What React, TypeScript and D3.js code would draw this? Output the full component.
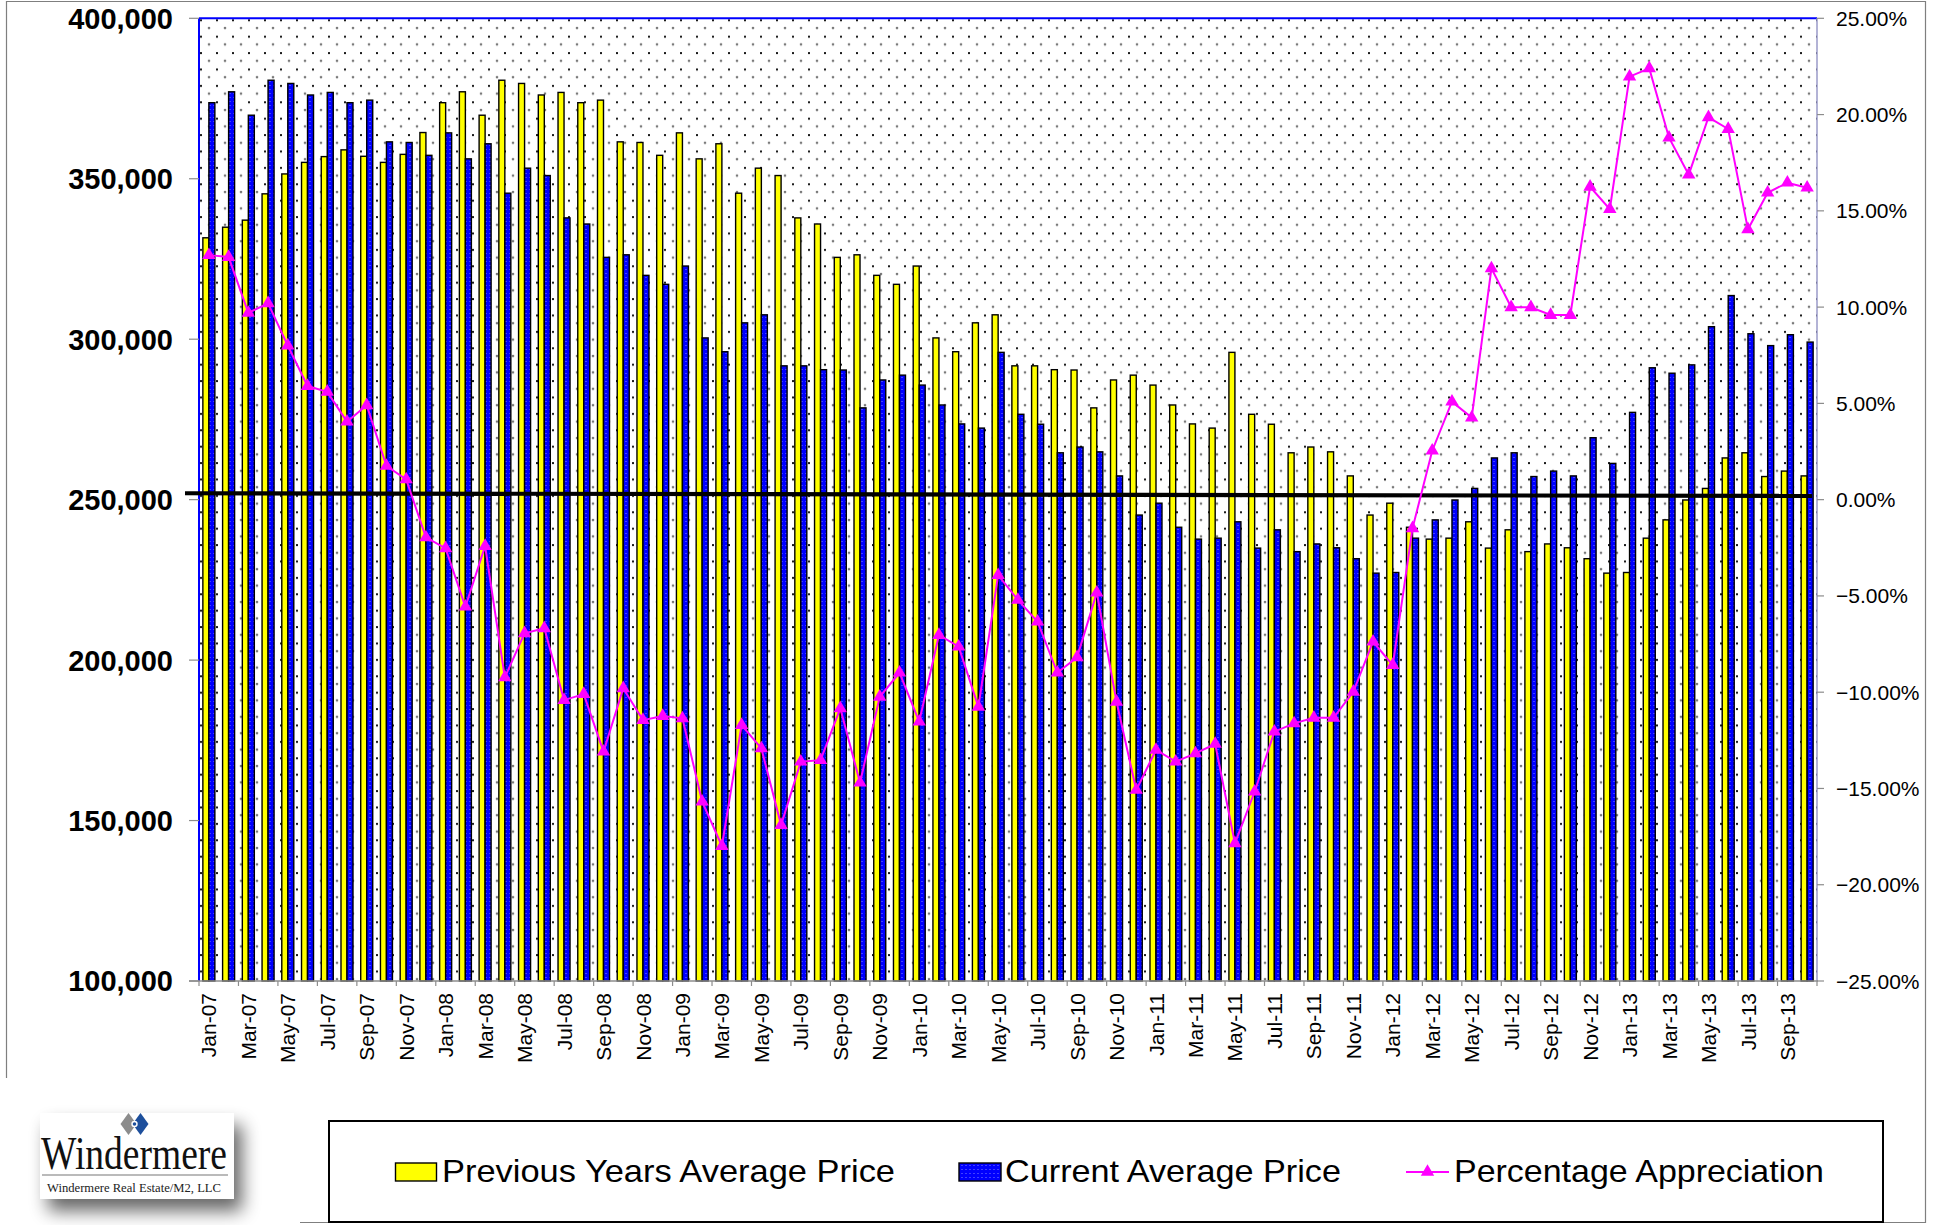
import React from 'react';
import * as d3 from 'd3';

const months = [
  'Jan-07','Feb-07','Mar-07','Apr-07','May-07','Jun-07','Jul-07','Aug-07','Sep-07','Oct-07','Nov-07','Dec-07',
  'Jan-08','Feb-08','Mar-08','Apr-08','May-08','Jun-08','Jul-08','Aug-08','Sep-08','Oct-08','Nov-08','Dec-08',
  'Jan-09','Feb-09','Mar-09','Apr-09','May-09','Jun-09','Jul-09','Aug-09','Sep-09','Oct-09','Nov-09','Dec-09',
  'Jan-10','Feb-10','Mar-10','Apr-10','May-10','Jun-10','Jul-10','Aug-10','Sep-10','Oct-10','Nov-10','Dec-10',
  'Jan-11','Feb-11','Mar-11','Apr-11','May-11','Jun-11','Jul-11','Aug-11','Sep-11','Oct-11','Nov-11','Dec-11',
  'Jan-12','Feb-12','Mar-12','Apr-12','May-12','Jun-12','Jul-12','Aug-12','Sep-12','Oct-12','Nov-12','Dec-12',
  'Jan-13','Feb-13','Mar-13','Apr-13','May-13','Jun-13','Jul-13','Aug-13','Sep-13','Oct-13'
];

const prevAvg = [
  331600, 334900, 337100, 345300, 351500, 355100, 356900, 359000, 357000, 355100, 357600, 364400,
  373700, 377100, 369800, 380700, 379700, 376100, 376900, 373700, 374500, 361500, 361300, 357300,
  364300, 356200, 360900, 345500, 353300, 351000, 337800, 335900, 325500, 326300, 319900, 317100,
  322800, 300400, 296100, 305100, 307600, 291700, 291700, 290500, 290400, 278600, 287300, 288800,
  285700, 279500, 273600, 272300, 295900, 276600, 273500, 264600, 266400, 264900, 257400, 245200,
  248900, 241400, 237700, 238000, 243100, 234900, 240600, 233800, 236200, 235000, 231600, 227100,
  227300, 238000, 243700, 249900, 253500, 263000, 264600, 257200, 258900, 257400
];

const currAvg = [
  373700, 377100, 369800, 380700, 379700, 376100, 376900, 373700, 374500, 361500, 361300, 357300,
  364300, 356200, 360900, 345500, 353300, 351000, 337800, 335900, 325500, 326300, 319900, 317100,
  322800, 300400, 296100, 305100, 307600, 291700, 291700, 290500, 290400, 278600, 287300, 288800,
  285700, 279500, 273600, 272300, 295900, 276600, 273500, 264600, 266400, 264900, 257400, 245200,
  248900, 241400, 237700, 238000, 243100, 234900, 240600, 233800, 236200, 235000, 231600, 227100,
  227300, 238000, 243700, 249900, 253500, 263000, 264600, 257200, 258900, 257400, 269300, 261300,
  277200, 291100, 289400, 292000, 303900, 313600, 301700, 298000, 301400, 299100
];

const pctAppreciation = [
  12.7, 12.6, 9.7, 10.2, 8.0, 5.9, 5.6, 4.05, 4.9, 1.75, 1.05, -1.96,
  -2.53, -5.56, -2.41, -9.23, -6.94, -6.68, -10.41, -10.1, -13.09, -9.8, -11.45, -11.24,
  -11.36, -15.69, -17.99, -11.71, -12.92, -16.9, -13.61, -13.53, -10.84, -14.7, -10.24, -8.99,
  -11.53, -7.03, -7.64, -10.76, -3.92, -5.21, -6.34, -8.99, -8.19, -4.83, -10.5, -15.08,
  -13.0, -13.61, -13.18, -12.69, -17.85, -15.17, -12.05, -11.62, -11.33, -11.33, -9.98, -7.38,
  -8.59, -1.49, 2.54, 5.09, 4.26, 12.01, 9.99, 9.99, 9.59, 9.59, 16.25, 15.09,
  21.97, 22.4, 18.8, 16.88, 19.86, 19.25, 14.04, 15.94, 16.46, 16.2
];

const leftTicks = [100000, 150000, 200000, 250000, 300000, 350000, 400000];
const rightTicks = [-25, -20, -15, -10, -5, 0, 5, 10, 15, 20, 25];
const referenceLine = [252000, 251150];
const seriesNames = ['Previous Years Average Price', 'Current Average Price', 'Percentage Appreciation'];

const W = 1935;
const H = 1225;
const PL = 199, PR = 1817, PT = 18.3, PB = 981;
const SANS = '"Liberation Sans", Arial, Helvetica, sans-serif';
const SERIF = '"Liberation Serif", "Times New Roman", serif';

export default function App() {
  const idx = d3.range(months.length);
  const x = d3.scaleBand<number>().domain(idx).range([PL, PR]).paddingInner(0).paddingOuter(0);
  const xs = d3.scaleBand<string>().domain(['prev', 'curr']).range([0, x.bandwidth()]).paddingInner(0).paddingOuter(0.644);
  const yL = d3.scaleLinear().domain([100000, 400000]).range([PB, PT]);
  const yR = d3.scaleLinear().domain([-25, 25]).range([PB, PT]);
  const cx = (i: number) => (x(i) as number) + x.bandwidth() / 2;
  const line = d3.line<number>().x((_d, i) => cx(i)).y((d) => yR(d));
  const tri = d3.symbol().type(d3.symbolTriangle).size(78)() as string;
  const fmtL = d3.format(',');
  const fmtR = (d: number) => d3.format('.2f')(d) + '%';
  const bw = xs.bandwidth();
  const tickIdx = d3.range(0, months.length + 1, 2);

  return (
    <svg width={W} height={H} style={{ position: 'absolute', left: 0, top: 0, background: '#fff' }}>
      <defs>
        <pattern id="dots" x={PL} y={PT} width={16} height={16.4} patternUnits="userSpaceOnUse">
          <rect x={1} y={1} width={2} height={2} fill="#1a1a1a" />
          <circle cx={10} cy={9.7} r={1.3} fill="#7a7a7a" />
        </pattern>
        <pattern id="bluePat" x={0} y={0} width={4} height={4} patternUnits="userSpaceOnUse">
          <rect width={4} height={4} fill="#0000ff" />
          <rect x={1.5} y={1} width={1} height={1} fill="#7f7fff" />
        </pattern>
        <filter id="shadow" x="-30%" y="-40%" width="170%" height="200%">
          <feGaussianBlur in="SourceAlpha" stdDeviation={9} />
          <feOffset dx={8} dy={12} result="b" />
          <feComponentTransfer>
            <feFuncA type="linear" slope={0.6} />
          </feComponentTransfer>
          <feMerge>
            <feMergeNode />
            <feMergeNode in="SourceGraphic" />
          </feMerge>
        </filter>
      </defs>

      {/* outer chart border */}
      <path d={`M6.5,1078 L6.5,1.5 L1925.5,1.5 L1925.5,1222.5 L300,1222.5`} fill="none" stroke="#7f7f7f" strokeWidth={1.2} />

      {/* plot area */}
      <rect x={PL} y={PT} width={PR - PL} height={PB - PT} fill="#fff" />
      <rect x={PL} y={PT} width={PR - PL} height={PB - PT} fill="url(#dots)" />

      {/* bars */}
      <g>
        {idx.map((i) => (
          <rect key={'p' + i} x={(x(i) as number) + (xs('prev') as number)} y={yL(prevAvg[i])}
            width={bw} height={PB - yL(prevAvg[i])} fill="#ffff00" stroke="#000" strokeWidth={1.4} />
        ))}
        {idx.map((i) => (
          <rect key={'c' + i} x={(x(i) as number) + (xs('curr') as number)} y={yL(currAvg[i])}
            width={bw} height={PB - yL(currAvg[i])} fill="url(#bluePat)" stroke="#000" strokeWidth={1.4} />
        ))}
      </g>

      {/* plot border and axes */}
      <line x1={PL} x2={PR} y1={PT} y2={PT} stroke="#0000ff" strokeWidth={2} />
      <line x1={PL} x2={PL} y1={PT} y2={PB} stroke="#0000ff" strokeWidth={2} />
      <line x1={PR} x2={PR} y1={PT} y2={PB} stroke="#9a9ac8" strokeWidth={1.5} />
      <line x1={PL - 10} x2={PR + 1} y1={PB} y2={PB} stroke="#8c8c8c" strokeWidth={1.5} />

      {/* left axis */}
      <g>
        {leftTicks.map((t) => (
          <g key={t}>
            <line x1={PL - 10} x2={PL} y1={yL(t)} y2={yL(t)} stroke="#8c8c8c" strokeWidth={1.2} />
            <text x={173} y={yL(t)} dy="0.36em" textAnchor="end" fontFamily={SANS} fontWeight="bold" fontSize={29} fill="#000">
              {fmtL(t)}
            </text>
          </g>
        ))}
      </g>

      {/* right axis */}
      <g>
        {rightTicks.map((t) => (
          <g key={t}>
            <line x1={PR} x2={PR + 7} y1={yR(t)} y2={yR(t)} stroke="#8c8c8c" strokeWidth={1.2} />
            <text x={1836} y={yR(t)} dy="0.36em" textAnchor="start" fontFamily={SANS} fontSize={21} fill="#000">
              {fmtR(t)}
            </text>
          </g>
        ))}
      </g>

      {/* x axis */}
      <g>
        {tickIdx.map((i) => {
          const tx = i < months.length ? (x(i) as number) : PR;
          return <line key={'t' + i} x1={tx} x2={tx} y1={PB} y2={PB + 5} stroke="#8c8c8c" strokeWidth={1.2} />;
        })}
        {idx.filter((i) => i % 2 === 0).map((i) => (
          <text key={'l' + i} transform={`translate(${cx(i)},993) rotate(-90)`} dy="0.36em" textAnchor="end"
            fontFamily={SANS} fontSize={21} fill="#000">
            {months[i]}
          </text>
        ))}
      </g>

      {/* reference line */}
      <line x1={185} x2={1812} y1={yL(referenceLine[0])} y2={yL(referenceLine[1])} stroke="#000" strokeWidth={4.2} />

      {/* percentage line */}
      <path d={line(pctAppreciation) as string} fill="none" stroke="#ff00ff" strokeWidth={2} />
      {pctAppreciation.map((d, i) => (
        <path key={'m' + i} d={tri} transform={`translate(${cx(i)},${yR(d)})`} fill="#ff00ff" />
      ))}

      {/* logo */}
      <g>
        <rect x={40} y={1113} width={194} height={86} fill="#fff" filter="url(#shadow)" />
        <path d="M128.5,1113 L136.5,1124 L128.5,1135 L120.5,1124 Z" fill="#8c8c8c" />
        <path d="M140.5,1113 L148.5,1124 L140.5,1135 L132.5,1124 Z" fill="#1d4f9c" />
        <circle cx={134.5} cy={1124} r={3.2} fill="#fff" />
        <circle cx={134.5} cy={1124} r={1.8} fill="#1d4f9c" />
        <text x={41} y={1169} fontFamily={SERIF} fontSize={46} textLength={186} lengthAdjust="spacingAndGlyphs" fill="#111">
          Windermere
        </text>
        <line x1={42} x2={228} y1={1175} y2={1175} stroke="#777" strokeWidth={1.2} />
        <text x={47} y={1192} fontFamily={SERIF} fontSize={13.5} textLength={174} lengthAdjust="spacingAndGlyphs" fill="#222">
          Windermere Real Estate/M2, LLC
        </text>
      </g>

      {/* legend */}
      <g>
        <rect x={329} y={1121} width={1554} height={101} fill="#fff" stroke="#000" strokeWidth={2} />
        <rect x={395.5} y={1163} width={41} height={18} fill="#ffff00" stroke="#000" strokeWidth={1.4} />
        <text x={442} y={1182} fontFamily={SANS} fontSize={32} textLength={453} lengthAdjust="spacingAndGlyphs" fill="#000">
          {seriesNames[0]}
        </text>
        <rect x={959} y={1163} width={42} height={18} fill="url(#bluePat)" stroke="#000" strokeWidth={1.4} />
        <text x={1005} y={1182} fontFamily={SANS} fontSize={32} textLength={336} lengthAdjust="spacingAndGlyphs" fill="#000">
          {seriesNames[1]}
        </text>
        <line x1={1406} x2={1449} y1={1172} y2={1172} stroke="#ff00ff" strokeWidth={2} />
        <path d={tri} transform="translate(1427.5,1172)" fill="#ff00ff" />
        <text x={1454} y={1182} fontFamily={SANS} fontSize={32} textLength={370} lengthAdjust="spacingAndGlyphs" fill="#000">
          {seriesNames[2]}
        </text>
      </g>
    </svg>
  );
}
